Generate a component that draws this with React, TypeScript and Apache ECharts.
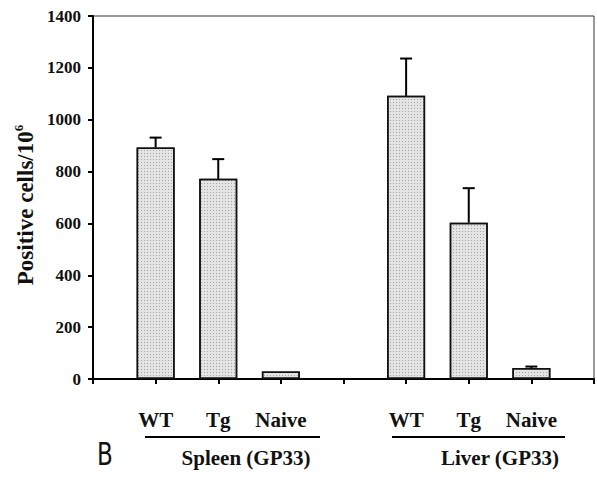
import React, { useEffect, useRef } from "react";
import * as echarts from "echarts";

const categories = ["", "WT", "Tg", "Naive", "", "WT", "Tg", "Naive", ""];
const means: (number | null)[] = [null, 893, 772, 29, null, 1092, 603, 42, null];
const errors: (number | null)[] = [null, 38, 76, 0, null, 144, 133, 6, null];
const groupLabels = ["Spleen (GP33)", "Liver (GP33)"];
const yTitle = "Positive cells/10";
const yTitleSup = "6";
const yMin = 0;
const yMax = 1400;
const yInterval = 200;

const SERIF = "'Liberation Serif', 'Times New Roman', serif";

export default function App() {
  const ref = useRef<HTMLDivElement>(null);
  useEffect(() => {
    if (!ref.current) return;
    const chart = echarts.init(ref.current, undefined, { renderer: "svg" });
    const errData = means.map((m, i) =>
      m == null || errors[i] == null ? null : [i, m, m + (errors[i] as number)]
    );
    chart.setOption({
      animation: false,
      backgroundColor: "#ffffff",
      grid: {
        left: 93,
        right: 3,
        top: 16,
        bottom: 101,
        show: true,
        borderColor: "#333",
        borderWidth: 1,
      },
      xAxis: {
        type: "category",
        data: categories,
        boundaryGap: false,
        axisLine: { lineStyle: { color: "#000", width: 2 } },
        axisTick: { show: true, length: 5, inside: false, lineStyle: { color: "#000", width: 2 } },
        axisLabel: {
          interval: 0,
          margin: 30,
          fontFamily: SERIF,
          fontWeight: "bold",
          fontSize: 21,
          color: "#111",
        },
        splitLine: { show: false },
      },
      yAxis: {
        type: "value",
        min: yMin,
        max: yMax,
        interval: yInterval,
        axisLine: { show: true, lineStyle: { color: "#000", width: 2 } },
        axisTick: { show: true, length: 5, lineStyle: { color: "#000", width: 2 } },
        axisLabel: {
          margin: 12,
          fontFamily: SERIF,
          fontWeight: "bold",
          fontSize: 17,
          color: "#111",
          formatter: (v: number) => String(v),
        },
        splitLine: { show: false },
      },
      series: [
        {
          type: "bar",
          data: means,
          barWidth: 38,
          itemStyle: {
            color: "#e4e4e4",
            borderColor: "#111",
            borderWidth: 1.5,
            decal: {
              symbol: "rect",
              symbolSize: 1,
              color: "rgba(0,0,0,0.28)",
              dashArrayX: [1, 2],
              dashArrayY: [1, 2],
              rotation: 0,
            },
          },
        },
        {
          type: "custom",
          data: errData.filter((d) => d != null),
          renderItem: (params: any, api: any) => {
            const x = api.value(0);
            const lo = api.coord([x, api.value(1)]);
            const hi = api.coord([x, api.value(2)]);
            if (Math.abs(hi[1] - lo[1]) < 0.5) return { type: "group", children: [] };
            const half = 6;
            return {
              type: "group",
              children: [
                {
                  type: "line",
                  shape: { x1: lo[0], y1: lo[1], x2: hi[0], y2: hi[1] },
                  style: { stroke: "#000", lineWidth: 2 },
                },
                {
                  type: "line",
                  shape: { x1: hi[0] - half, y1: hi[1], x2: hi[0] + half, y2: hi[1] },
                  style: { stroke: "#000", lineWidth: 2 },
                },
              ],
            };
          },
          z: 3,
        },
      ],
      graphic: [
        {
          type: "text",
          x: 25,
          y: 205,
          rotation: Math.PI / 2,
          style: {
            text: "{a|" + yTitle + "}{s|" + yTitleSup + "}",
            align: "center",
            verticalAlign: "middle",
            rich: {
              a: { fontFamily: SERIF, fontWeight: "bold", fontSize: 23, fill: "#111", lineHeight: 26 },
              s: { fontFamily: SERIF, fontWeight: "bold", fontSize: 13, fill: "#111", verticalAlign: "top", lineHeight: 26, padding: [0, 0, 12, 0] },
            },
          },
        },
        { type: "line", shape: { x1: 145, y1: 437, x2: 320, y2: 437 }, style: { stroke: "#000", lineWidth: 2 } },
        { type: "line", shape: { x1: 392, y1: 437, x2: 565, y2: 437 }, style: { stroke: "#000", lineWidth: 2 } },
        {
          type: "text",
          x: 246,
          y: 458,
          style: { text: groupLabels[0], fontFamily: SERIF, fontWeight: "bold", fontSize: 21, fill: "#111", align: "center", verticalAlign: "middle" },
        },
        {
          type: "text",
          x: 500,
          y: 458,
          style: { text: groupLabels[1], fontFamily: SERIF, fontWeight: "bold", fontSize: 21, fill: "#111", align: "center", verticalAlign: "middle" },
        },
        {
          type: "text",
          x: 105,
          y: 454,
          scaleX: 0.8,
          style: { text: "B", fontFamily: "'DejaVu Sans Condensed', 'Liberation Sans Narrow', sans-serif", fontSize: 32, fill: "#111", align: "center", verticalAlign: "middle" },
        },
      ],
    });
    return () => chart.dispose();
  }, []);
  return (
    <div
      ref={ref}
      style={{ position: "fixed", left: 0, top: 0, width: 597, height: 480, background: "#fff" }}
    />
  );
}
